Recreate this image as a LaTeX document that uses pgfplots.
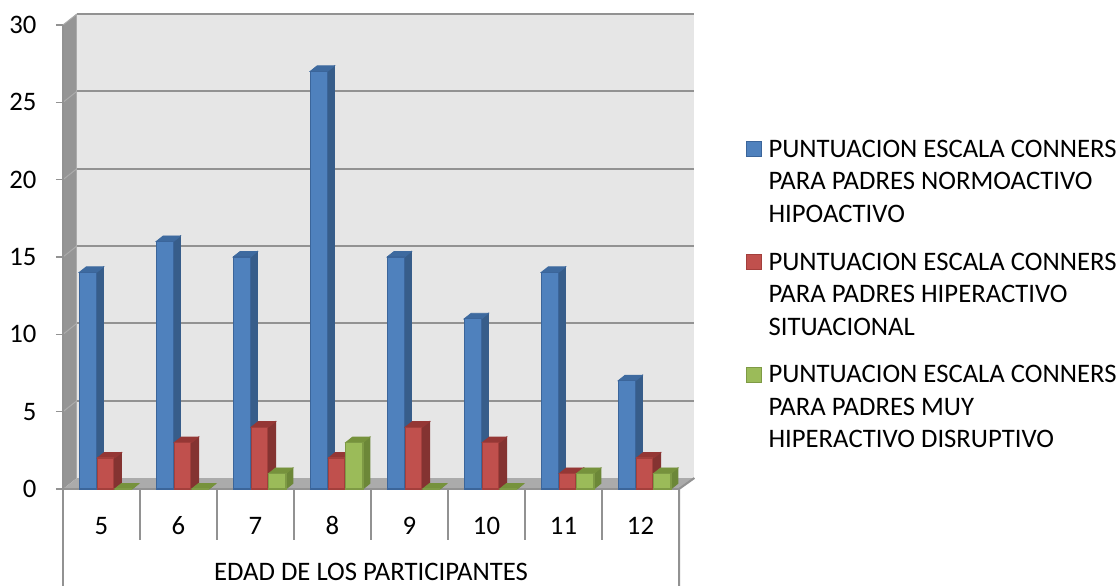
\documentclass[border=0pt]{standalone}
\usepackage{fontspec}
\setmainfont{Carlito}
\usepackage{pgfplots}
\usepackage{pgfplotstable}
\pgfplotsset{compat=1.18}

\definecolor{wallback}{HTML}{E6E6E6}
\definecolor{wallside}{HTML}{959595}
\definecolor{wallfloor}{HTML}{ABABAB}
\definecolor{gridc}{HTML}{929292}
\definecolor{blueF}{HTML}{4F81BD}
\definecolor{blueE}{HTML}{3B659A}
\definecolor{blueT}{HTML}{3E6A9F}
\definecolor{blueS}{HTML}{375D8A}
\definecolor{redF}{HTML}{C0504D}
\definecolor{redE}{HTML}{A33F3C}
\definecolor{redT}{HTML}{953735}
\definecolor{redS}{HTML}{843331}
\definecolor{greenF}{HTML}{9BBB59}
\definecolor{greenE}{HTML}{7E9A45}
\definecolor{greenT}{HTML}{76923C}
\definecolor{greenS}{HTML}{6C8738}

\pgfplotstableread{
x a b c
0.5 14 2 0
1.5 16 3 0
2.5 15 4 1
3.5 27 2 3
4.5 15 4 0
5.5 11 3 0
6.5 14 1 1
7.5 7 2 1
}\counts

% top and side faces of one series
\newcommand\barfaces[4]{%
  \pgfplotsforeachungrouped \i in {0,...,7}{%
    \pgfplotstablegetelem{\i}{#1}\of\counts
    \pgfmathsetmacro\v{\pgfplotsretval}%
    \pgfmathsetmacro\xa{\i+#2}%
    \pgfmathsetmacro\xb{\xa+0.225}%
    \pgfmathsetmacro\xc{\xb+0.091}%
    \pgfmathsetmacro\xd{\xa+0.091}%
    \pgfmathsetmacro\vt{\v+0.36}%
    \addplot[fill=#4,draw=#4,line width=0.8pt,forget plot] coordinates {(\xb,0) (\xc,0.36) (\xc,\vt) (\xb,\v)} --cycle;
    \addplot[fill=#3,draw=#3,line width=0.8pt,forget plot] coordinates {(\xa,\v) (\xb,\v) (\xc,\vt) (\xd,\vt)} --cycle;
  }%
}

\pgfplotsset{
  square legend/.style={
    legend image code/.code={
      \draw[##1,line width=1.2pt] (0pt,25pt) rectangle (15pt,40pt);
      \path[draw=none,fill=none] (0pt,0pt) -- (22pt,0pt);
    },
  },
}

\begin{document}
\begin{tikzpicture}
\path[use as bounding box] (0,0) rectangle (1120pt,586pt);
\begin{axis}[
  at={(63pt,97pt)},
  x=77pt, y=15.467pt,
  xmin=0, xmax=8.22,
  ymin=0, ymax=30.71,
  clip=false,
  axis line style={draw=none},
  font=\fontsize{26.7}{32.5}\selectfont,
  ytick={0,5,...,30},
  ytick pos=left,
  tick align=outside,
  major tick length=7pt,
  y tick style={draw=gridc,line width=1.6pt},
  /pgf/number format/assume math mode=true,
  yticklabel style={xshift=-16pt},
  xtick={0.5,1.5,...,7.5},
  xticklabels={5,6,7,8,9,10,11,12},
  x tick style={draw=none},
  xtick pos=bottom,
  xticklabel style={anchor=center,yshift=-30pt,text height=17pt,text depth=0pt},
  xlabel={EDAD DE LOS PARTICIPANTES},
  xlabel style={at={(axis cs:4,-5.33)},anchor=center,inner sep=0pt},
  legend style={
    at={(axis description cs:1.079,0.735)},anchor=north west,
    draw=none,fill=none,inner sep=0pt,outer sep=0pt,
    row sep=29pt,
    nodes={align=left,inner sep=0pt,outer sep=0pt},
    cells={anchor=north west},
  },
  legend cell align=left,
]
% walls
\addplot[fill=wallback,draw=none,forget plot] coordinates {(0.18,0.71) (8.2,0.71) (8.2,30.71) (0.18,30.71)} --cycle;
\addplot[fill=wallside,draw=none,forget plot] coordinates {(0,0) (0.18,0.71) (0.18,30.71) (0,30)} --cycle;
\addplot[fill=wallfloor,draw=none,forget plot] coordinates {(0,0) (8,0) (8.2,0.71) (0.18,0.71)} --cycle;
% grid
\pgfplotsforeachungrouped \g in {5,10,...,30}{%
  \pgfmathsetmacro\gb{\g+0.71}%
  \addplot[draw=gridc,line width=2.2pt,forget plot] coordinates {(0.18,\gb) (8.2,\gb)};
  \addplot[draw=wallfloor,line width=1pt,forget plot] coordinates {(0,\g) (0.18,\gb)};
}
\addplot[draw=wallfloor,line width=1.2pt,forget plot] coordinates {(0.18,0.71) (0.18,30.71)};
% table below the axis
\addplot[draw=gridc,line width=2pt,forget plot] coordinates {(0,30) (0,0) (0,-6.27)};
\addplot[draw=gridc,line width=2pt,forget plot] coordinates {(8,-6.27) (8,0) (8.2,0.71)};
\addplot[draw=gridc,line width=2pt,forget plot] coordinates {(0,0) (8,0)};
\addplot[draw=gridc,line width=2pt,forget plot] coordinates {(1,0) (1,-3.3)};
\addplot[draw=gridc,line width=2pt,forget plot] coordinates {(2,0) (2,-3.3)};
\addplot[draw=gridc,line width=2pt,forget plot] coordinates {(3,0) (3,-3.3)};
\addplot[draw=gridc,line width=2pt,forget plot] coordinates {(4,0) (4,-3.3)};
\addplot[draw=gridc,line width=2pt,forget plot] coordinates {(5,0) (5,-3.3)};
\addplot[draw=gridc,line width=2pt,forget plot] coordinates {(6,0) (6,-3.3)};
\addplot[draw=gridc,line width=2pt,forget plot] coordinates {(7,0) (7,-3.3)};
% series
\barfaces{a}{0.21}{blueT}{blueS}
\addplot[ybar,bar width=0.225,bar shift=-0.1775,fill=blueF,draw=blueE,line width=1.2pt,square legend] table[x=x,y=a] {\counts};
\addlegendentry{PUNTUACION ESCALA CONNERS\\PARA PADRES NORMOACTIVO\\HIPOACTIVO}
\barfaces{b}{0.445}{redT}{redS}
\addplot[ybar,bar width=0.215,bar shift=0.0525,fill=redF,draw=redE,line width=1.2pt,square legend] table[x=x,y=b] {\counts};
\addlegendentry{PUNTUACION ESCALA CONNERS\\PARA PADRES HIPERACTIVO\\SITUACIONAL}
\barfaces{c}{0.67}{greenT}{greenS}
\addplot[ybar,bar width=0.225,bar shift=0.2825,fill=greenF,draw=greenE,line width=1.2pt,square legend] table[x=x,y=c] {\counts};
\addlegendentry{PUNTUACION ESCALA CONNERS\\PARA PADRES MUY\\HIPERACTIVO DISRUPTIVO}
\end{axis}
\end{tikzpicture}
\end{document}
